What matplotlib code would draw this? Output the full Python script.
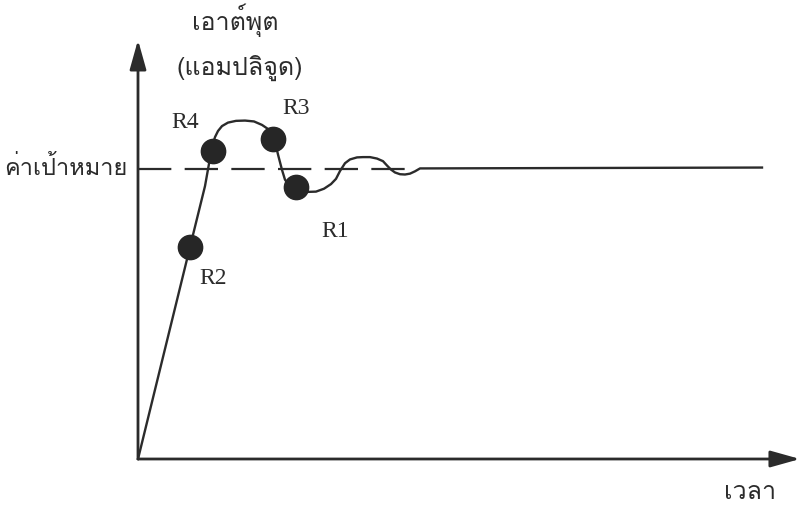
#!/usr/bin/env python3

"""Step response diagram with target level and marked points R1..R4."""

import matplotlib
matplotlib.use('Agg')
import matplotlib.pyplot as plt
from matplotlib import font_manager
from matplotlib.ft2font import FT2Font

# response curve (time, amplitude relative to target)
time = [0, 5.2, 6.7, 7.4, 7.7, 8.0, 8.4, 9.0, 9.8, 10.7, 11.6, 12.4, 13.0,
        13.4, 13.7, 14.0, 14.4, 14.7, 15.1, 15.8, 16.9, 17.8, 18.6, 19.3,
        19.8, 20.2, 20.7, 21.2, 21.9, 22.5, 23.2, 23.9, 24.5, 24.9, 25.3,
        25.7, 26.2, 26.7, 27.2, 27.7, 28.2, 62.4]
amplitude = [0, 0.731, 0.941, 1.076, 1.110, 1.131, 1.148, 1.160, 1.166,
             1.167, 1.164, 1.152, 1.138, 1.122, 1.093, 1.050, 0.997, 0.963,
             0.945, 0.932, 0.921, 0.922, 0.932, 0.948, 0.966, 0.993, 1.020,
             1.033, 1.040, 1.041, 1.041, 1.036, 1.027, 1.012, 0.998, 0.988,
             0.982, 0.981, 0.984, 0.992, 1.002, 1.005]

target = 1.0
target_end = 26.7

point_labels = ['R2', 'R4', 'R3', 'R1']
point_time = [5.2, 7.5, 13.5, 15.8]
point_amp = [0.731, 1.062, 1.103, 0.938]

ylabel_1 = 'เอาต์พุต'
ylabel_2 = '(แอมปลิจูด)'
target_label = 'ค่าเป้าหมาย'
xlabel = 'เวลา'


def find_thai_font():
    """
    Return the first installed family that has Thai glyphs
    """
    for f in font_manager.fontManager.ttflist:
        try:
            if 0x0E40 in FT2Font(f.fname).get_charmap():
                return f.name
        except Exception:
            pass
    return 'DejaVu Sans'


def main():
    thai_font = find_thai_font()
    ink = '#2b2b2b'

    fig = plt.figure(figsize=(8.01, 5.06), dpi=100)
    ax = fig.add_axes([0, 0, 1, 1])
    ax.set_xlim(-13.8, 66.3)
    ax.set_ylim(-46 / 290, 460 / 290)
    ax.axis('off')

    # axes with arrows
    arrow = dict(arrowstyle='-|>,head_length=1.0,head_width=0.28',
                 mutation_scale=18, lw=2.0, color=ink, shrinkA=0, shrinkB=0)
    ax.annotate('', xy=(0, 1.445), xytext=(0, 0), arrowprops=arrow)
    ax.annotate('', xy=(66.2, 0), xytext=(0, 0), arrowprops=arrow)

    # target level
    ax.plot([0, target_end], [target, target], color=ink, lw=1.6,
            linestyle=(0, (15, 6)))

    # response
    ax.plot(time, amplitude, color=ink, lw=1.7, solid_joinstyle='round')

    # marked points
    ax.plot(point_time, point_amp, 'o', color='#262626', markersize=17.5,
            zorder=5)
    offsets = {'R2': (16.5, -22), 'R4': (-20, 21), 'R3': (16.5, 22.5),
               'R1': (28, -31)}
    for lbl, t, a in zip(point_labels, point_time, point_amp):
        ax.annotate(lbl, xy=(t, a), xytext=offsets[lbl],
                    textcoords='offset points', ha='center', va='center',
                    fontsize=17, family='Liberation Serif', color=ink)

    # thai labels
    thai = dict(family=[thai_font, 'DejaVu Sans'], color=ink, fontsize=18,
                ha='center', va='center')
    fig.text(235 / 801, 1 - 20 / 506, ylabel_1, **thai)
    fig.text(240 / 801, 1 - 68 / 506, ylabel_2, **thai)
    fig.text(66 / 801, 1 - 168 / 506, target_label, **dict(thai, fontsize=17))
    fig.text(750 / 801, 1 - 493 / 506, xlabel, **thai)

    fig.savefig('out.png', dpi=100)


if __name__ == "__main__":
    main()
